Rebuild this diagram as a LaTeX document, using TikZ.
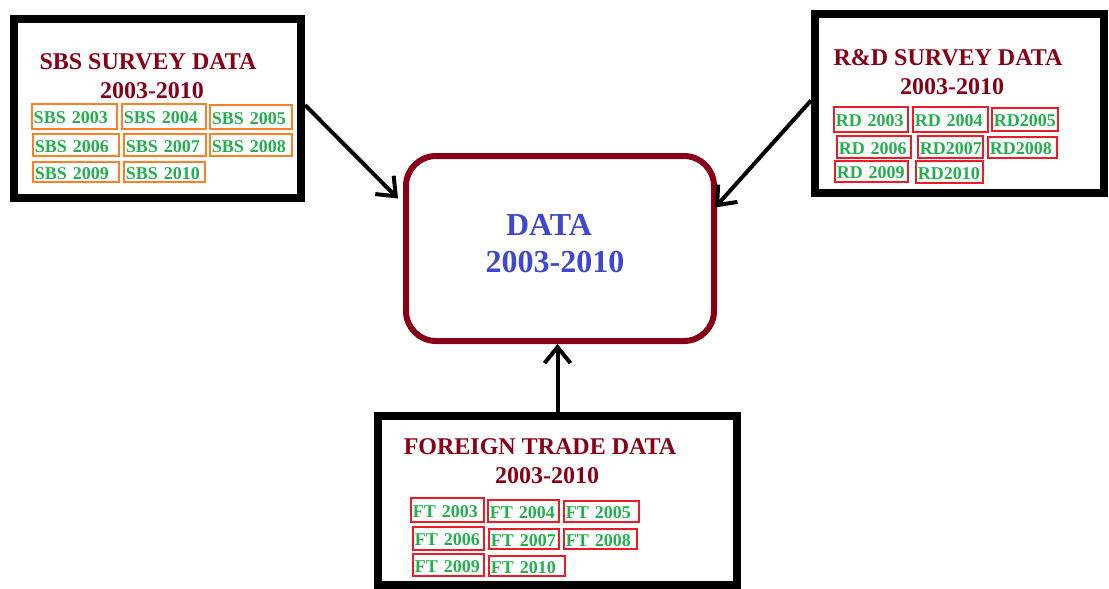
\documentclass[tikz,border=0pt]{standalone}
\usepackage{fontspec}
\setmainfont{Liberation Serif}
\usetikzlibrary{arrows.meta}

\definecolor{titlered}{HTML}{880015}
\definecolor{datablue}{HTML}{3F48CC}
\definecolor{cellgreen}{HTML}{22B14C}
\definecolor{cellorange}{HTML}{FF7F27}
\definecolor{cellred}{HTML}{ED1C24}

\tikzset{
  panel/.style={draw=black, line width=8pt, fill=white, inner sep=0pt},
  hub/.style={draw=titlered, line width=6pt, rounded corners=30pt, fill=white, inner sep=0pt},
  heading/.style={anchor=base, text=titlered, font=\fontsize{24}{28}\selectfont\bfseries, inner sep=0pt},
  hubtext/.style={anchor=base, text=datablue, font=\fontsize{32}{36}\selectfont\bfseries, inner sep=0pt},
  cell/.style={anchor=north west, line width=1.5pt, text=cellgreen,
    font=\fontsize{18}{20}\selectfont\bfseries, align=left,
    inner xsep=2pt, inner ysep=0pt, text height=15pt, text depth=0pt},
  sbscell/.style={cell, draw=cellorange},
  rdcell/.style={cell, draw=cellred},
  ftcell/.style={cell, draw=cellred},
  arr/.style={line width=4pt, -{Straight Barb[length=16pt,width=26pt]}},
}

\begin{document}
\begin{tikzpicture}[x=1pt, y=-1pt]
  \fill[white] (0,0) rectangle (1109,589);
  \useasboundingbox (0,0) rectangle (1109,589);

  % outer panels
  \node[panel, minimum width=287pt, minimum height=179pt] (sbs) at (157.5,108.5) {};
  \node[panel, minimum width=289pt, minimum height=179pt] (rd) at (959.5,103.5) {};
  \node[panel, minimum width=359pt, minimum height=169pt] (ft) at (557.5,500.5) {};
  \node[hub, minimum width=308pt, minimum height=185pt] (data) at (560,248.5) {};

  % central box text
  \node[hubtext] (dataT) at (549,235) {DATA};
  \node[hubtext] (dataY) at (555,272) {2003-2010};

  % SBS survey panel
  \node[heading] (sbsT) at (148,69) {SBS SURVEY DATA};
  \node[heading] (sbsY) at (152,98) {2003-2010};
  \node[sbscell, text width=81pt, minimum height=25pt] (s03) at (31,103) {SBS 2003};
  \node[sbscell, text width=80pt, minimum height=25pt] (s04) at (121,103) {SBS 2004};
  \node[sbscell, text width=78pt, minimum height=24pt] (s05) at (209,104) {SBS 2005};
  \node[sbscell, text width=82pt, minimum height=22pt] (s06) at (32,133) {SBS 2006};
  \node[sbscell, text width=78pt, minimum height=22pt] (s07) at (123,133) {SBS 2007};
  \node[sbscell, text width=78pt, minimum height=22pt] (s08) at (209,133) {SBS 2008};
  \node[sbscell, text width=82pt, minimum height=20pt] (s09) at (32,161) {SBS 2009};
  \node[sbscell, text width=77pt, minimum height=20pt] (s10) at (123,161) {SBS 2010};

  % R&D survey panel
  \node[heading] (rdT) at (948,65) {R\&D SURVEY DATA};
  \node[heading] (rdY) at (952,94) {2003-2010};
  \node[rdcell, text width=70pt, minimum height=25pt] (r03) at (833,106) {RD 2003};
  \node[rdcell, text width=71pt, minimum height=25pt] (r04) at (912,106) {RD 2004};
  \node[rdcell, text width=62pt, minimum height=23pt] (r05) at (991,107) {RD2005};
  \node[rdcell, text width=70pt, minimum height=22pt] (r06) at (836,135) {RD 2006};
  \node[rdcell, text width=61pt, minimum height=22pt] (r07) at (917,135) {RD2007};
  \node[rdcell, text width=65pt, minimum height=21pt] (r08) at (987,136) {RD2008};
  \node[rdcell, text width=69pt, minimum height=21pt] (r09) at (834,160) {RD 2009};
  \node[rdcell, text width=63pt, minimum height=22pt] (r10) at (915,160) {RD2010};

  % foreign trade panel
  \node[heading] (ftT) at (540,454) {FOREIGN TRADE DATA};
  \node[heading] (ftY) at (547,483) {2003-2010};
  \node[ftcell, text width=69pt, minimum height=24pt] (f03) at (410,497) {FT 2003};
  \node[ftcell, text width=67pt, minimum height=22pt] (f04) at (487,499) {FT 2004};
  \node[ftcell, text width=71pt, minimum height=21pt] (f05) at (563,500) {FT 2005};
  \node[ftcell, text width=67pt, minimum height=23pt] (f06) at (412,526) {FT 2006};
  \node[ftcell, text width=66pt, minimum height=20pt] (f07) at (488,528) {FT 2007};
  \node[ftcell, text width=69pt, minimum height=20pt] (f08) at (563,528) {FT 2008};
  \node[ftcell, text width=67pt, minimum height=22pt] (f09) at (412,553) {FT 2009};
  \node[ftcell, text width=72pt, minimum height=20pt] (f10) at (488,555) {FT 2010};

  % connectors into the central box
  \draw[arr] ([yshift=-90pt]sbs.north east) -- ([xshift=-5pt,yshift=50pt]data.west);
  \draw[arr] ([yshift=3pt]rd.west) -- ([xshift=-2pt,yshift=41pt]data.east);
  \draw[arr] (ft.north) -- (ft.north |- data.south);
\end{tikzpicture}
\end{document}
